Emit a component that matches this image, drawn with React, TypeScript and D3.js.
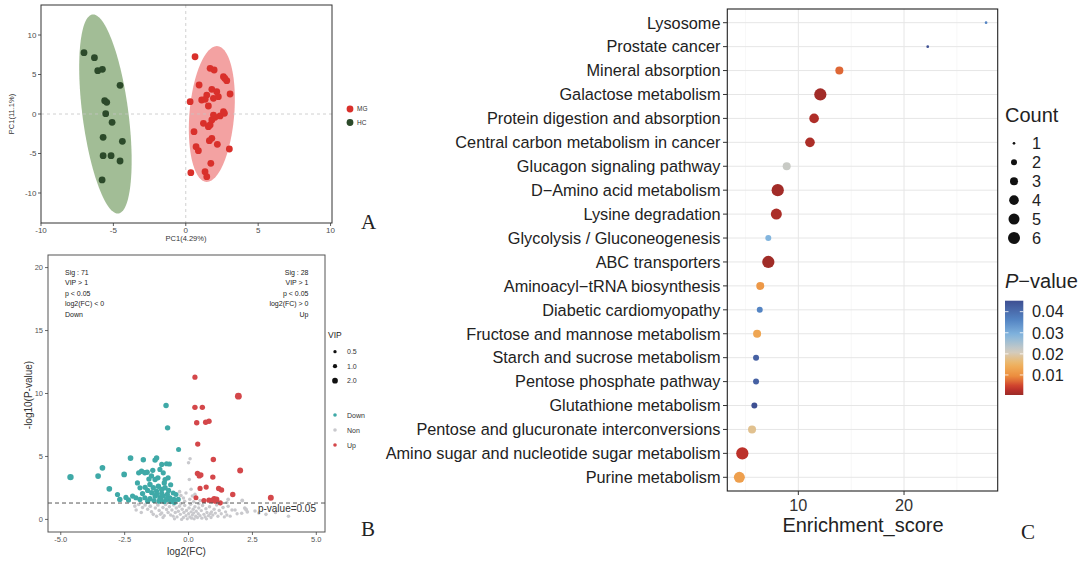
import React from 'react';
import * as d3 from 'd3';

// ---------------- Panel A : PCA ----------------
const pcaGroups = ['MG', 'HC'];
const pcaTicks = [-10, -5, 0, 5, 10];
const pcaMG: [number, number][] = [
  [0.64, 7.25], [1.68, 5.78], [1.96, 5.57], [2.6, 4.72], [2.83, 4.22], [2.7, 4.5], [0.92, 3.67],
  [1.8, 3.12], [2.14, 2.83], [1.45, 2.4], [1.1, 1.77], [1.91, 1.99], [2.25, 2.19], [3.06, 2.53],
  [0.3, 1.56], [1.56, 1.01], [1.34, 1.86], [2.6, 0.29], [2.37, -0.25], [2.02, -0.42], [1.8, -0.76],
  [1.22, -1.18], [1.56, -1.6], [1.68, -1.39], [0.57, -2.24], [1.8, -3.08], [1.63, -3.38],
  [2.18, -3.84], [0.71, -4.14], [0.87, -4.64], [3.01, -4.43], [1.73, -6.24], [0.35, -7.43],
  [1.33, -7.3], [1.45, -7.94], [1.91, -0.13], [2.67, 0.08],
];
const pcaHC: [number, number][] = [
  [-7.03, 7.76], [-6.31, 7.13], [-6.08, 5.49], [-5.76, 5.65], [-4.54, 3.63], [-5.6, 1.69],
  [-5.46, 1.48], [-5.53, 0.04], [-5.09, -1.05], [-5.71, -2.95], [-4.38, -3.46], [-5.71, -5.27],
  [-5.16, -5.27], [-4.54, -5.95], [-5.78, -8.35],
];
// confidence ellipses (centre and conjugate semi-axes, data units)
const ellipseMG = { c: [1.8, 0], u: [0.35, 8.6], v: [1.55, 0] };
const ellipseHC = { c: [-5.55, 0], u: [-0.85, 12.6], v: [1.6, 0] };

// ---------------- Panel B : volcano ----------------
const volcXTicks = [-5, -2.5, 0, 2.5, 5];
const volcYTicks = [0, 5, 10, 15, 20];
const vipLegend = [0.5, 1.0, 2.0];
const volcClasses = ['Down', 'Non', 'Up'];
const downText = ['Sig : 71', 'VIP > 1', 'p < 0.05', 'log2(FC) < 0', 'Down'];
const upText = ['Sig : 28', 'VIP > 1', 'p < 0.05', 'log2(FC) > 0', 'Up'];
// [log2FC, -log10P, VIP]
const volcUp: [number, number, number][] = [
  [0.25, 11.3, 1.6], [1.95, 9.79, 3.0], [0.25, 8.9, 1.8], [0.54, 8.9, 1.8], [0.32, 7.67, 1.8],
  [0.67, 7.72, 1.8], [0.8, 7.8, 1.8], [0.36, 5.98, 1.7], [0.97, 4.76, 1.8], [2.02, 3.89, 2.2],
  [0.35, 3.65, 1.8], [0.48, 3.52, 1.8], [0.95, 3.36, 1.8], [0.45, 2.46, 1.6], [0.69, 2.57, 1.6],
  [1.18, 2.46, 1.8], [1.29, 2.33, 1.8], [1.73, 1.98, 1.8], [3.22, 1.72, 2.2], [0.29, 1.72, 1.5],
  [0.8, 1.53, 1.8], [1.0, 1.65, 1.8], [1.1, 1.6, 1.8], [0.9, 1.5, 1.8], [1.24, 1.32, 1.7],
  [0.42, 3.45, 1.7], [1.05, 1.45, 1.8], [0.6, 1.5, 1.6],
];
const volcDown: [number, number, number][] = [
  [-0.88, 9.05, 1.8], [-0.82, 7.27, 1.8], [-0.39, 5.56, 1.5], [-4.62, 3.36, 2.6], [-3.54, 3.44, 2.0],
  [-3.37, 4.1, 2.0], [-3.1, 2.43, 2.0], [-2.52, 3.57, 2.0], [-2.27, 4.87, 2.0], [-2.78, 1.98, 1.6],
  [-2.69, 1.59, 1.8], [-2.19, 1.85, 1.6], [-1.77, 4.74, 1.8], [-1.31, 4.71, 1.8], [-1.25, 4.87, 1.8],
  [-1.05, 4.37, 1.6], [-0.86, 4.42, 1.6], [-1.9, 2.51, 1.6], [-1.84, 3.83, 1.8], [-1.71, 3.7, 1.8],
  [-1.62, 3.75, 1.8], [-1.31, 3.17, 1.7], [-1.12, 3.97, 1.6], [-0.99, 3.7, 1.6], [-0.92, 3.17, 1.6],
  [-1.51, 2.78, 1.8], [-1.38, 2.51, 1.8], [-1.18, 2.64, 1.8], [-1.05, 2.38, 1.8], [-0.92, 2.51, 1.8],
  [-2.06, 1.72, 1.6], [-1.9, 1.59, 1.6], [-1.71, 1.72, 1.6], [-1.51, 1.65, 1.7], [-1.31, 1.85, 1.7],
  [-1.12, 1.72, 1.7], [-0.99, 1.85, 1.7], [-0.86, 1.59, 1.7], [-0.73, 1.72, 1.6], [-0.57, 1.59, 1.5],
  [-1.44, 2.12, 1.7], [-1.25, 2.25, 1.7], [-1.05, 2.06, 1.7], [-0.83, 1.98, 1.7], [-0.49, 1.98, 1.5],
  [-0.4, 1.59, 1.5], [-1.6, 1.45, 1.6], [-1.35, 1.5, 1.6], [-1.15, 1.45, 1.6], [-0.95, 1.42, 1.6],
  [-0.7, 1.4, 1.5], [-1.55, 3.2, 1.7], [-1.45, 3.45, 1.7], [-1.2, 3.3, 1.7], [-1.6, 2.3, 1.7],
  [-1.25, 2.0, 1.7], [-0.78, 2.3, 1.6], [-0.7, 2.75, 1.6], [-1.4, 3.9, 1.7], [-1.95, 3.7, 1.7],
  [-0.95, 2.9, 1.7], [-1.7, 2.55, 1.7], [-2.35, 1.55, 1.6], [-1.8, 2.05, 1.7], [-0.6, 2.1, 1.5],
  [-1.1, 1.6, 1.7], [-0.8, 3.3, 1.6], [-0.75, 4.4, 1.6], [-2.45, 1.75, 1.6], [-2.0, 2.9, 1.6],
  [-0.55, 1.35, 1.5],
];
const volcNon: [number, number, number][] = [
  [0.06, 4.81, 0.6], [0.0, 4.5, 0.6], [0.03, 3.17, 0.6], [0.1, 2.4, 0.6], [-0.35, 2.2, 0.7],
  [-0.3, 1.9, 0.7], [-0.2, 1.7, 0.6], [-0.1, 2.1, 0.6], [0.15, 1.85, 0.6], [0.25, 2.0, 0.6],
  [-0.45, 1.5, 0.6], [0.45, 1.5, 0.6], [1.55, 1.6, 0.7], [1.5, 1.35, 0.6], [2.1, 1.5, 0.8],
  [0.2, 1.4, 0.6], [-0.15, 1.45, 0.6], [0.05, 1.6, 0.6], [-0.5, 2.0, 0.6],
  [-2.1, 1.06, 0.7], [-1.95, 1.2, 0.7], [-1.8, 0.95, 0.6], [-1.7, 1.15, 0.7], [-1.6, 0.8, 0.6],
  [-1.5, 1.05, 0.7], [-1.45, 0.6, 0.6], [-1.38, 0.4, 0.6], [-1.3, 0.9, 0.6], [-1.2, 1.15, 0.7],
  [-1.15, 0.7, 0.6], [-1.05, 0.5, 0.6], [-1.0, 0.95, 0.6], [-0.95, 0.3, 0.5], [-0.9, 1.2, 0.7],
  [-0.86, 0.79, 0.6], [-0.8, 0.55, 0.6], [-0.75, 1.0, 0.6], [-0.7, 0.35, 0.5], [-0.65, 0.75, 0.6],
  [-0.6, 0.26, 0.5], [-0.58, 1.15, 0.6], [-0.52, 0.55, 0.6], [-0.48, 0.9, 0.6], [-0.45, 0.2, 0.5],
  [-0.4, 0.65, 0.6], [-0.36, 1.05, 0.6], [-0.32, 0.4, 0.5], [-0.27, 0.0, 0.5], [-0.25, 0.8, 0.6],
  [-0.2, 0.15, 0.5], [-0.18, 0.55, 0.6], [-0.15, 1.1, 0.6], [-0.1, 0.3, 0.5], [-0.08, 0.7, 0.6],
  [-0.05, 0.05, 0.5], [0.0, 0.45, 0.5], [0.02, 0.9, 0.6], [0.05, 0.2, 0.5], [0.08, 1.2, 0.6],
  [0.1, 0.6, 0.5], [0.12, 0.1, 0.5], [0.15, 0.35, 0.5], [0.18, 0.8, 0.6], [0.2, 0.5, 0.5],
  [0.22, 0.05, 0.5], [0.25, 1.0, 0.6], [0.28, 0.25, 0.5], [0.3, 0.65, 0.5], [0.35, 0.15, 0.5],
  [0.38, 0.45, 0.5], [0.4, 0.9, 0.6], [0.45, 0.3, 0.5], [0.5, 0.7, 0.5], [0.52, 0.1, 0.5],
  [0.55, 1.1, 0.6], [0.6, 0.4, 0.5], [0.65, 0.2, 0.5], [0.68, 0.85, 0.6], [0.72, 0.55, 0.5],
  [0.78, 0.3, 0.5], [0.82, 1.0, 0.6], [0.88, 0.15, 0.5], [0.9, 0.6, 0.5], [0.95, 0.35, 0.5],
  [1.0, 0.8, 0.6], [1.05, 0.5, 0.5], [1.1, 1.15, 0.6], [1.15, 0.25, 0.5], [1.2, 0.7, 0.6],
  [1.28, 0.45, 0.5], [1.35, 0.95, 0.6], [1.4, 0.2, 0.5], [1.45, 0.6, 0.5], [1.55, 1.05, 0.6],
  [1.63, 0.26, 0.5], [1.7, 0.75, 0.6], [1.82, 0.74, 0.6], [1.9, 0.45, 0.5], [2.08, 0.48, 0.6],
  [2.2, 0.9, 0.7], [2.25, 0.79, 0.8], [2.3, 0.6, 0.7], [2.6, 0.66, 0.6], [2.75, 0.5, 0.6],
  [3.03, 0.4, 0.6], [3.4, 0.55, 0.6], [3.91, 0.26, 0.6], [-1.25, 0.25, 0.5], [-0.55, 0.05, 0.5],
  [0.7, 0.05, 0.5], [-2.05, 0.75, 0.6], [-1.85, 0.55, 0.6], [-1.0, 0.15, 0.5], [0.4, 1.25, 0.6],
  [-0.3, 1.25, 0.6], [1.25, 1.25, 0.6], [-1.1, 0.4, 0.5], [0.85, 0.45, 0.5], [1.5, 0.35, 0.5],
];
const pThreshold = 0.05;

// ---------------- Panel C : KEGG enrichment ----------------
const pathways = [
  'Lysosome', 'Prostate cancer', 'Mineral absorption', 'Galactose metabolism',
  'Protein digestion and absorption', 'Central carbon metabolism in cancer',
  'Glucagon signaling pathway', 'D\u2212Amino acid metabolism', 'Lysine degradation',
  'Glycolysis / Gluconeogenesis', 'ABC transporters', 'Aminoacyl\u2212tRNA biosynthesis',
  'Diabetic cardiomyopathy', 'Fructose and mannose metabolism', 'Starch and sucrose metabolism',
  'Pentose phosphate pathway', 'Glutathione metabolism', 'Pentose and glucuronate interconversions',
  'Amino sugar and nucleotide sugar metabolism', 'Purine metabolism',
];
const enrichScore = [27.76, 22.24, 13.88, 12.08, 11.49, 11.1, 8.9, 8.05, 7.92, 7.16, 7.16, 6.4, 6.35, 6.1, 6.0, 6.0, 5.84, 5.62, 4.7, 4.42];
const pathCount = [1, 1, 3, 6, 4, 4, 3, 6, 5, 2, 6, 3, 2, 3, 2, 2, 2, 3, 6, 5];
const pathP = [0.036, 0.045, 0.007, 0.001, 0.002, 0.0018, 0.022, 0.001, 0.0017, 0.029, 0.0009, 0.011, 0.036, 0.013, 0.042, 0.042, 0.045, 0.018, 0.003, 0.012];
const enrichTicks = [10, 20];
const enrichMinor = [5, 15, 25];
const countLegend = [1, 2, 3, 4, 5, 6];
const pLegendTicks = [0.01, 0.02, 0.03, 0.04];
const pStops = [0.0005, 0.004, 0.009, 0.015, 0.021, 0.029, 0.036, 0.0452];
const pColors = ['#9b2b27', '#c9332b', '#ec8a3c', '#f0b45e', '#d2cdc1', '#82b5de', '#5484c3', '#3e4f92'];

const SANS = 'Liberation Sans, Arial, Helvetica, sans-serif';
const SERIF = 'Liberation Serif, Times New Roman, serif';

function ellipsePath(e: { c: number[]; u: number[]; v: number[] }, sx: any, sy: any) {
  const pts = d3.range(0, 360, 3).map((deg) => {
    const t = (deg * Math.PI) / 180;
    return [
      sx(e.c[0] + e.u[0] * Math.cos(t) + e.v[0] * Math.sin(t)),
      sy(e.c[1] + e.u[1] * Math.cos(t) + e.v[1] * Math.sin(t)),
    ] as [number, number];
  });
  return d3.line().curve(d3.curveLinearClosed)(pts) || '';
}

export default function App() {
  // ---------- A ----------
  const ax = d3.scaleLinear().domain([-10, 10.1]).range([41, 332]);
  const ay = d3.scaleLinear().domain([-13.8, 13.8]).range([223, 5]);
  const pcaColor = d3.scaleOrdinal<string, string>().domain(pcaGroups).range(['#d9302b', '#2c4a2a']);
  const pcaFill = d3.scaleOrdinal<string, string>().domain(pcaGroups).range(['#f3a2a2', '#a2bd96']);

  // ---------- B ----------
  const bx = d3.scaleLinear().domain([-5.5, 5.34]).range([48, 325]);
  const by = d3.scaleLinear().domain([-1, 21]).range([532, 255]);
  const vipArea = d3.scaleLinear().domain([0.5, 2]).range([10.9, 32.5]);
  const vipR = (v: number) => Math.sqrt(vipArea(v)) / 2;
  const volcColor = d3.scaleOrdinal<string, string>().domain(volcClasses).range(['#3fa9a7', '#c9c9cd', '#d4474a']);
  const thrY = by(-Math.log10(pThreshold));

  // ---------- C ----------
  const cx = d3.scaleLinear().domain([3.28, 28.86]).range([727.3, 997.7]);
  const cy = d3.scalePoint<string>().domain(pathways).range([22.7, 477.3]);
  const cntArea = d3.scaleLinear().domain([1, 6]).range([7.3, 150]);
  const cntR = (c: number) => Math.sqrt(cntArea(c)) / 2;
  const pCol = d3.scaleLinear<string>().domain(pStops).range(pColors).interpolate(d3.interpolateRgb);
  const barTop = 300.7, barBot = 395;
  const barScale = d3.scaleLinear().domain([0.0005, 0.0452]).range([barBot, barTop]);
  const gradStops = d3.range(0, 1.0001, 0.05).map((f) => {
    const p = 0.0005 + f * (0.0452 - 0.0005);
    return { off: f, col: pCol(p) };
  });

  return (
    <svg width={1080} height={561} style={{ position: 'absolute', left: 0, top: 0, background: '#fff' }} fontFamily={SANS}>
      <defs>
        <linearGradient id="pgrad" x1="0" y1="1" x2="0" y2="0">
          {gradStops.map((s, i) => (
            <stop key={i} offset={s.off} stopColor={s.col} />
          ))}
        </linearGradient>
      </defs>
      <rect x={0} y={0} width={1080} height={561} fill="#fff" />

      {/* ================= Panel A ================= */}
      <g>
        <path d={ellipsePath(ellipseHC, ax, ay)} fill={pcaFill('HC')} />
        <path d={ellipsePath(ellipseMG, ax, ay)} fill={pcaFill('MG')} />
        <line x1={ax(0)} x2={ax(0)} y1={ay(13.8)} y2={ay(-13.8)} stroke="#c4c4c4" strokeDasharray="3,3" strokeWidth={0.8} />
        <line x1={ax(-10)} x2={ax(10.1)} y1={ay(0)} y2={ay(0)} stroke="#c4c4c4" strokeDasharray="3,3" strokeWidth={0.8} />
        {pcaHC.map((d, i) => (
          <circle key={'hc' + i} cx={ax(d[0])} cy={ay(d[1])} r={3.4} fill={pcaColor('HC')} />
        ))}
        {pcaMG.map((d, i) => (
          <circle key={'mg' + i} cx={ax(d[0])} cy={ay(d[1])} r={3.4} fill={pcaColor('MG')} />
        ))}
        <rect x={41} y={5} width={291} height={218} fill="none" stroke="#333" strokeWidth={1} />
        {pcaTicks.map((t) => (
          <g key={'ax' + t}>
            <line x1={ax(t)} x2={ax(t)} y1={223} y2={226} stroke="#333" strokeWidth={0.8} />
            <text x={ax(t)} y={233} fontSize={8} fill="#4d4d4d" textAnchor="middle">{t}</text>
          </g>
        ))}
        {pcaTicks.map((t) => (
          <g key={'ay' + t}>
            <line x1={38} x2={41} y1={ay(t)} y2={ay(t)} stroke="#333" strokeWidth={0.8} />
            <text x={36.5} y={ay(t) + 2.8} fontSize={8} fill="#4d4d4d" textAnchor="end">{t}</text>
          </g>
        ))}
        <text x={186} y={241} fontSize={7.5} fill="#333" textAnchor="middle">PC1(4.29%)</text>
        <text transform={`translate(14,${ay(0)}) rotate(-90)`} fontSize={7.5} fill="#333" textAnchor="middle">PC1(11.1%)</text>
        {pcaGroups.map((g, i) => (
          <g key={'lg' + g}>
            <circle cx={350} cy={109 + i * 13.5} r={3.4} fill={pcaColor(g)} />
            <text x={357} y={109 + i * 13.5 + 2.3} fontSize={6.5} fill="#333">{g}</text>
          </g>
        ))}
        <text x={361} y={229} fontSize={21} fontFamily={SERIF} fill="#222">A</text>
      </g>

      {/* ================= Panel B ================= */}
      <g>
        {volcNon.map((d, i) => (
          <circle key={'n' + i} cx={bx(d[0])} cy={by(d[1])} r={vipR(d[2])} fill={volcColor('Non')} />
        ))}
        {volcDown.map((d, i) => (
          <circle key={'d' + i} cx={bx(d[0])} cy={by(d[1])} r={vipR(d[2])} fill={volcColor('Down')} />
        ))}
        {volcUp.map((d, i) => (
          <circle key={'u' + i} cx={bx(d[0])} cy={by(d[1])} r={vipR(d[2])} fill={volcColor('Up')} />
        ))}
        <line x1={48} x2={325} y1={thrY} y2={thrY} stroke="#555" strokeWidth={1} strokeDasharray="4,3" />
        <text x={316} y={thrY + 8.5} fontSize={10} fill="#333" textAnchor="end">p-value=0.05</text>
        <rect x={48} y={255} width={277} height={277} fill="none" stroke="#555" strokeWidth={1} />
        {volcXTicks.map((t) => (
          <g key={'bx' + t}>
            <line x1={bx(t)} x2={bx(t)} y1={532} y2={535} stroke="#444" strokeWidth={0.8} />
            <text x={bx(t)} y={541.5} fontSize={7.5} fill="#555" textAnchor="middle">{t.toFixed(1)}</text>
          </g>
        ))}
        {volcYTicks.map((t) => (
          <g key={'by' + t}>
            <line x1={45} x2={48} y1={by(t)} y2={by(t)} stroke="#444" strokeWidth={0.8} />
            <text x={43} y={by(t) + 2.7} fontSize={7.5} fill="#555" textAnchor="end">{t}</text>
          </g>
        ))}
        <text x={186.5} y={555} fontSize={10} fill="#333" textAnchor="middle">log2(FC)</text>
        <text transform={`translate(32,395) rotate(-90)`} fontSize={10} fill="#333" textAnchor="middle">-log10(P-value)</text>
        {downText.map((s, i) => (
          <text key={'dt' + i} x={65} y={275 + i * 10.4} fontSize={7} fill="#222">{s}</text>
        ))}
        {upText.map((s, i) => (
          <text key={'ut' + i} x={308.5} y={275 + i * 10.4} fontSize={7} fill="#222" textAnchor="end">{s}</text>
        ))}
        <text x={328} y={338} fontSize={8.5} fill="#222">VIP</text>
        {vipLegend.map((v, i) => (
          <g key={'vl' + i}>
            <circle cx={335} cy={351.7 + i * 14.5} r={vipR(v)} fill="#111" />
            <text x={347} y={351.7 + i * 14.5 + 2.5} fontSize={7} fill="#333">{v.toFixed(1)}</text>
          </g>
        ))}
        {volcClasses.map((c, i) => (
          <g key={'vc' + c}>
            <circle cx={335} cy={415 + i * 15} r={1.8} fill={volcColor(c)} />
            <text x={347} y={415 + i * 15 + 2.5} fontSize={7} fill="#333">{c}</text>
          </g>
        ))}
        <text x={361} y={536} fontSize={21} fontFamily={SERIF} fill="#222">B</text>
      </g>

      {/* ================= Panel C ================= */}
      <g>
        {enrichMinor.map((t) => (
          <line key={'cm' + t} x1={cx(t)} x2={cx(t)} y1={9} y2={491} stroke="#f2f2f2" strokeWidth={0.6} />
        ))}
        {enrichTicks.map((t) => (
          <line key={'cg' + t} x1={cx(t)} x2={cx(t)} y1={9} y2={491} stroke="#e6e6e6" strokeWidth={1} />
        ))}
        {pathways.map((p) => (
          <line key={'cgy' + p} x1={727.3} x2={997.7} y1={cy(p)} y2={cy(p)} stroke="#e6e6e6" strokeWidth={1} />
        ))}
        {pathways.map((p, i) => (
          <circle key={'cp' + i} cx={cx(enrichScore[i])} cy={cy(p)} r={cntR(pathCount[i])} fill={pCol(pathP[i])} />
        ))}
        <rect x={727.3} y={9} width={270.4} height={482} fill="none" stroke="#222" strokeWidth={1.1} />
        {pathways.map((p) => (
          <g key={'cl' + p}>
            <line x1={723} x2={727.3} y1={cy(p)} y2={cy(p)} stroke="#333" strokeWidth={1} />
            <text x={720.5} y={cy(p)! + 5.8} fontSize={16.3} fill="#222" textAnchor="end">{p}</text>
          </g>
        ))}
        {enrichTicks.map((t) => (
          <g key={'ct' + t}>
            <line x1={cx(t)} x2={cx(t)} y1={491} y2={495} stroke="#333" strokeWidth={1} />
            <text x={cx(t)} y={511} fontSize={16.3} fill="#333" textAnchor="middle">{t}</text>
          </g>
        ))}
        <text x={863} y={532} fontSize={20} fill="#222" textAnchor="middle">Enrichment_score</text>

        <text x={1005} y={122} fontSize={20} fill="#222">Count</text>
        {countLegend.map((c, i) => (
          <g key={'cnt' + c}>
            <circle cx={1014} cy={143.3 + i * 18.95} r={Math.min(cntR(c), 6)} fill="#111" />
            <text x={1032} y={143.3 + i * 18.95 + 5.8} fontSize={16.3} fill="#222">{c}</text>
          </g>
        ))}

        <text x={1005} y={288} fontSize={20} fill="#222">
          <tspan fontStyle="italic">P</tspan>
          <tspan>{'\u2212value'}</tspan>
        </text>
        <rect x={1005} y={barTop} width={18.3} height={barBot - barTop} fill="url(#pgrad)" />
        {pLegendTicks.map((t) => (
          <g key={'pl' + t}>
            <line x1={1005} x2={1008.5} y1={barScale(t)} y2={barScale(t)} stroke="#fff" strokeWidth={0.8} />
            <line x1={1019.8} x2={1023.3} y1={barScale(t)} y2={barScale(t)} stroke="#fff" strokeWidth={0.8} />
            <text x={1032} y={barScale(t) + 5.8} fontSize={16.3} fill="#222">{t.toFixed(2)}</text>
          </g>
        ))}
        <text x={1021} y={539} fontSize={21} fontFamily={SERIF} fill="#222">C</text>
      </g>
    </svg>
  );
}
